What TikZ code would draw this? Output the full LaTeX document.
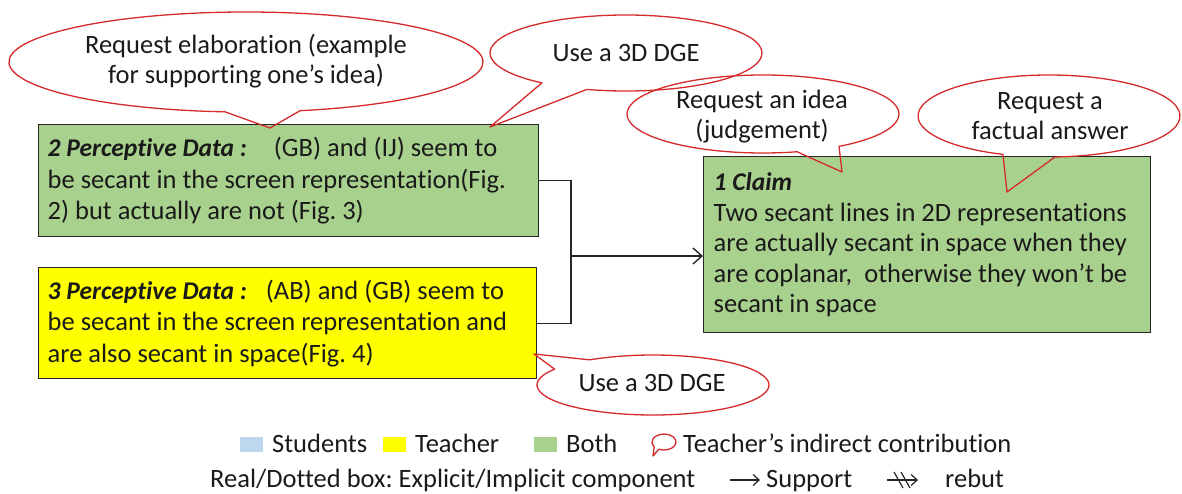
\documentclass[tikz,border=0pt]{standalone}
\usepackage{fontspec}
\setmainfont{Carlito}[Ligatures=NoCommon]
\usetikzlibrary{arrows.meta,calc}
\definecolor{boxgreen}{HTML}{A9D18E}
\definecolor{boxyellow}{HTML}{FFFF00}
\definecolor{stublue}{HTML}{BDD7EE}
\definecolor{callred}{HTML}{D42A2A}
\definecolor{edgegray}{HTML}{262626}
\definecolor{txt}{HTML}{1A1A1A}
\frenchspacing
\newcommand\lbl[1]{{\fontsize{25.5}{31.5}\selectfont\textbf{\textit{#1}}}}
\tikzset{
 argbox/.style={draw=edgegray, line width=1.4pt, anchor=north west, align=flush left, inner xsep=9pt, inner ysep=0pt, text=txt,
   font=\fontsize{26.5}{31.5}\selectfont\frenchspacing},
 ctext/.style={align=center, inner sep=0pt, font=\fontsize{26.5}{30}\selectfont, text=txt},
 callout/.style={draw=callred, line width=1.3pt, line join=round},
 conn/.style={draw=edgegray, line width=1.4pt},
 legtext/.style={anchor=base west, inner sep=0pt, font=\fontsize{26.5}{31}\selectfont, text=txt},
 legsq/.style={minimum width=23pt, minimum height=15pt, inner sep=0pt, anchor=south west},
}
\newcommand\bubble[6]{%
 \draw[callout] ($(#1)+(#4:#2pt and #3pt)$) -- (#6) -- ($(#1)+(#5:#2pt and #3pt)$)
   arc[start angle=#5, end angle=#4+360, x radius=#2pt, y radius=#3pt] -- cycle;}
\begin{document}
\begin{tikzpicture}[x=1pt,y=-1pt]
\useasboundingbox (0,0) rectangle (1182,493);
% argument boxes
\node[argbox, fill=boxgreen, minimum width=500pt, minimum height=112pt, text width=482pt] (pd2) at (38,124)
 {\lbl{2 Perceptive Data :}\hspace{27pt}(GB) and (IJ) seem to\\be secant in the screen representation(Fig.\\2) but actually are not (Fig. 3)};
\node[argbox, fill=boxyellow, minimum width=498pt, minimum height=111pt, text width=480pt] (pd3) at (38,267)
 {\lbl{3 Perceptive Data :}\hspace{19pt}(AB) and (GB) seem to\\be secant in the screen representation and\\are also secant in space(Fig. 4)};
\node[argbox, fill=boxgreen, minimum width=447pt, minimum height=176pt, inner xsep=10pt, text width=427pt,
      font=\fontsize{26.5}{30.5}\selectfont\frenchspacing] (cl1) at (703,156)
 {\lbl{1 Claim}\\Two secant lines in 2D representations\\are actually secant in space when they\\are coplanar,\ \ otherwise they won’t be\\secant in space};
% connectors
\coordinate (jn) at (571,256);
\draw[conn] (pd2.east) -| (jn) |- (pd3.east);
\draw[conn,-{Straight Barb[length=9pt,width=16pt]}] (jn) -- (jn -| cl1.west);
% callouts
\node[ctext] (qa) at (246,61) {Request elaboration (example\\for supporting one’s idea)};
\node[ctext] (qb) at (626,53) {Use a 3D DGE};
\node[ctext] (qc) at (762,117) {Request an idea\\(judgement)};
\node[ctext] (qd) at (1050,116) {Request a\\factual answer};
\node[ctext] (qe) at (652,383) {Use a 3D DGE};
\coordinate (ea) at (246,62); \coordinate (ta) at (270,128);
\coordinate (eb) at (626,53); \coordinate (tb) at (490,127);
\coordinate (ec) at (763,114); \coordinate (tc) at (842,172);
\coordinate (ed) at (1049,116); \coordinate (td) at (1007,192);
\coordinate (ee) at (653,385); \coordinate (te) at (534,354);
\bubble{ea}{237}{50}{264.9}{283.2}{ta}
\bubble{eb}{136}{38}{231.8}{253.3}{tb}
\bubble{ec}{136}{39}{284.5}{304}{tc}
\bubble{ed}{131}{41}{249.4}{272.6}{td}
\bubble{ee}{116}{30}{123}{148}{te}
% legend
\node[legsq, fill=stublue] (lgs) at (240,452) {};
\node[legtext] (lgst) at (272,452) {Students};
\node[legsq, fill=boxyellow] (lgy) at (383,452) {};
\node[legtext] (lgyt) at (415,452) {Teacher};
\node[legsq, fill=boxgreen] (lgg) at (534,452) {};
\node[legtext] (lggt) at (566,452) {Both};
\coordinate (ebi) at (664,442); \coordinate (tbi) at (653,456);
\bubble{ebi}{12}{8}{215}{245}{tbi}
\node[legtext] (lgct) at (683,452) {Teacher’s indirect contribution};
\node[legtext] (lgr) at (210,487) {Real/Dotted box: Explicit/Implicit component};
\coordinate (sa) at (730,480); \coordinate (sb) at (760,480);
\draw[conn, line width=1.2pt, -{Straight Barb[length=6pt,width=11pt]}] (sa) -- (sb);
\node[legtext] (lgsu) at (766,487) {Support};
\coordinate (ra) at (887,480); \coordinate (rb) at (918,480);
\draw[conn, line width=1.2pt, -{Straight Barb[length=6pt,width=11pt]}] (ra) -- (rb);
\coordinate (r1a) at (894,472); \coordinate (r1b) at (903,488);
\coordinate (r2a) at (901,472); \coordinate (r2b) at (910,488);
\draw[conn, line width=1.2pt] (r1a) -- (r1b);
\draw[conn, line width=1.2pt] (r2a) -- (r2b);
\node[legtext] (lgre) at (945,487) {rebut};
\end{tikzpicture}
\end{document}
